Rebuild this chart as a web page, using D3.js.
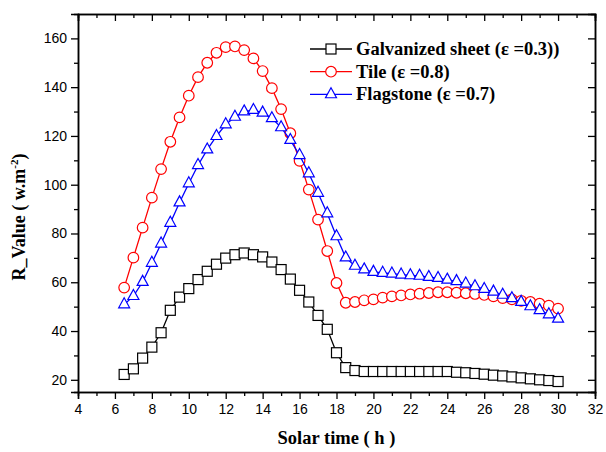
<!DOCTYPE html>
<html>
<head>
<meta charset="utf-8">
<script src="https://cdn.jsdelivr.net/npm/d3@7"></script>
<style>
  html, body { margin: 0; padding: 0; background: #fff; }
  svg { display: block; }
</style>
</head>
<body>
<svg id="chart" width="606" height="452"></svg>
<script>
// Solar time (h), every half hour from 6.5 to 30
const hours = d3.range(6.5, 30.01, 0.5);

const galvanized = [22.2, 24.5, 28.9, 33.4, 39.3, 48.5, 53.9, 57.4, 61.1, 64.5, 67.4, 69.9,
  71.3, 72.0, 71.3, 70.4, 68.3, 65.2, 61.3, 56.7, 51.9, 46.4, 40.7, 31.1,
  25.0, 23.8, 23.4, 23.4, 23.4, 23.4, 23.4, 23.4, 23.4, 23.4, 23.4, 23.4,
  23.1, 22.9, 22.6, 22.3, 21.9, 21.6, 21.2, 20.8, 20.4, 20.0, 19.7, 19.3];

const tile = [57.8, 70.1, 82.4, 94.7, 106.4, 117.6, 127.6, 136.5, 144.1, 150.0, 154.1, 156.4,
  156.7, 155.2, 151.8, 146.6, 139.6, 131.0, 121.1, 109.8, 98.0, 85.7, 72.8, 59.7,
  51.6, 51.9, 52.6, 53.0, 53.7, 54.2, 54.6, 55.0, 55.3, 55.6, 55.9, 55.9,
  55.7, 55.5, 55.2, 54.8, 54.2, 53.5, 53.0, 52.4, 51.9, 51.2, 50.4, 49.2];

const flagstone = [50.9, 54.3, 60.1, 67.9, 75.8, 84.3, 92.7, 100.5, 108.0, 114.4, 119.9, 124.7,
  127.8, 130.0, 130.6, 129.5, 127.2, 123.5, 118.3, 112.1, 104.6, 96.6, 88.2, 78.8,
  70.1, 66.7, 65.2, 64.2, 63.8, 63.5, 63.1, 62.8, 62.6, 62.1, 61.7, 61.0,
  60.4, 59.4, 58.3, 57.2, 56.1, 54.8, 53.4, 51.9, 50.1, 48.5, 46.8, 45.0];

const xTicks = [4, 6, 8, 10, 12, 14, 16, 18, 20, 22, 24, 26, 28, 30, 32];
const yTicks = [20, 40, 60, 80, 100, 120, 140, 160];

const seriesNames = ["Galvanized sheet (\u03b5 =0.3))", "Tile (\u03b5 =0.8)", "Flagstone (\u03b5 =0.7)"];
const seriesColors = ["#000000", "#ff0000", "#0000ff"];
const seriesShapes = ["square", "circle", "triangle"];
const seriesValues = [galvanized, tile, flagstone];

const svg = d3.select("#chart");
const plotLeft = 78, plotRight = 595, plotTop = 14, plotBottom = 392;

const x = d3.scaleLinear().domain([4, 32]).range([plotLeft, plotRight]);
const y = d3.scaleLinear().domain([15, 170]).range([plotBottom, plotTop]);

const tickFont = "Liberation Sans, Arial, sans-serif";
const titleFont = "Liberation Serif, Times New Roman, serif";

// axes: bottom/left ticks point outward, top/right ticks point inward
function styleAxis(g) {
  g.select(".domain").attr("stroke", "#000").attr("stroke-width", 1.5);
  g.selectAll(".tick line").attr("stroke", "#000").attr("stroke-width", 1.3);
  g.selectAll(".tick text").attr("font-family", tickFont).attr("font-size", 14).attr("fill", "#000");
}

const xMinor = d3.range(5, 32, 2);
const yMinor = d3.range(30, 170, 20);

// minor ticks
svg.append("g").attr("transform", `translate(0,${plotBottom})`)
  .call(d3.axisBottom(x).tickValues(xMinor).tickSize(4).tickFormat(""))
  .call(styleAxis);
svg.append("g").attr("transform", `translate(0,${plotTop})`)
  .call(d3.axisBottom(x).tickValues(xMinor).tickSize(4).tickFormat(""))
  .call(styleAxis);
svg.append("g").attr("transform", `translate(${plotLeft},0)`)
  .call(d3.axisLeft(y).tickValues(yMinor).tickSize(4).tickFormat(""))
  .call(styleAxis);
svg.append("g").attr("transform", `translate(${plotRight},0)`)
  .call(d3.axisLeft(y).tickValues(yMinor).tickSize(4).tickFormat(""))
  .call(styleAxis);

// major ticks
svg.append("g").attr("transform", `translate(0,${plotBottom})`)
  .call(d3.axisBottom(x).tickValues(xTicks).tickSize(7).tickPadding(5).tickFormat(d3.format("d")))
  .call(styleAxis);
svg.append("g").attr("transform", `translate(0,${plotTop})`)
  .call(d3.axisBottom(x).tickValues(xTicks).tickSize(7).tickFormat(""))
  .call(styleAxis);
svg.append("g").attr("transform", `translate(${plotLeft},0)`)
  .call(d3.axisLeft(y).tickValues(yTicks).tickSize(7).tickPadding(4).tickFormat(d3.format("d")))
  .call(styleAxis);
svg.append("g").attr("transform", `translate(${plotRight},0)`)
  .call(d3.axisLeft(y).tickValues(yTicks).tickSize(7).tickFormat(""))
  .call(styleAxis);

// open markers
function drawMarker(sel, shape, color) {
  if (shape === "square") {
    sel.append("rect")
      .attr("x", -5).attr("y", -5).attr("width", 10).attr("height", 10)
      .attr("fill", "#fff").attr("stroke", color).attr("stroke-width", 1.2);
  } else if (shape === "circle") {
    sel.append("circle").attr("r", 5.3)
      .attr("fill", "#fff").attr("stroke", color).attr("stroke-width", 1.2);
  } else {
    const h = 10, w = 11;
    sel.append("path")
      .attr("d", `M0,${-h * 2 / 3}L${w / 2},${h / 3}L${-w / 2},${h / 3}Z`)
      .attr("fill", "#fff").attr("stroke", color).attr("stroke-width", 1.2);
  }
}

const line = d3.line().x(d => x(d[0])).y(d => y(d[1]));

seriesValues.forEach((vals, i) => {
  const pts = hours.map((h, j) => [h, vals[j]]);
  const g = svg.append("g");
  g.append("path").datum(pts)
    .attr("d", line).attr("fill", "none")
    .attr("stroke", seriesColors[i]).attr("stroke-width", 1.3);
  g.selectAll("g.mk").data(pts).join("g")
    .attr("class", "mk")
    .attr("transform", d => `translate(${x(d[0])},${y(d[1])})`)
    .each(function () { drawMarker(d3.select(this), seriesShapes[i], seriesColors[i]); });
});

// legend
const legend = svg.append("g").attr("transform", "translate(310,49)");
seriesNames.forEach((name, i) => {
  const row = legend.append("g").attr("transform", `translate(0,${i * 22.7})`);
  row.append("line").attr("x1", 0).attr("x2", 42).attr("y1", 0).attr("y2", 0)
    .attr("stroke", seriesColors[i]).attr("stroke-width", 1.3);
  const m = row.append("g").attr("transform", "translate(21,0)");
  drawMarker(m, seriesShapes[i], seriesColors[i]);
  row.append("text").attr("x", 46).attr("y", 6)
    .attr("font-family", titleFont).attr("font-weight", "bold").attr("font-size", 18.5)
    .attr("fill", "#000").text(name);
});

// axis titles
svg.append("text")
  .attr("x", (plotLeft + plotRight) / 2).attr("y", 444)
  .attr("text-anchor", "middle")
  .attr("font-family", titleFont).attr("font-weight", "bold").attr("font-size", 18.5)
  .text("Solar time ( h )");

const yTitle = svg.append("text")
  .attr("transform", `translate(25,217) rotate(-90)`)
  .attr("text-anchor", "middle")
  .attr("font-family", titleFont).attr("font-weight", "bold").attr("font-size", 18);
yTitle.append("tspan").text("R_Value ( w.m");
yTitle.append("tspan").attr("dy", -7).attr("font-size", 11).text("-2");
yTitle.append("tspan").attr("dy", 7).text(")");
</script>
</body>
</html>
